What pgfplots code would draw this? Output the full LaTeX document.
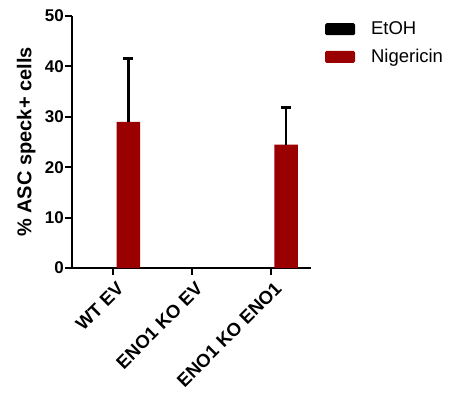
\documentclass[border=0pt]{standalone}
\usepackage{fontspec}
\setmainfont{Liberation Sans}
\usepackage{pgfplots}
\pgfplotsset{compat=1.18}
\definecolor{nigred}{RGB}{155,0,0}
\begin{document}
\begin{tikzpicture}[x=1pt,y=1pt]
\path[use as bounding box] (0,0) rectangle (454,392);
\begin{axis}[
  at={(72pt,124pt)}, anchor=south west,
  scale only axis, width=239pt, height=252pt,
  xmin=-0.52, xmax=2.51, ymin=0, ymax=50,
  axis lines*=left,
  axis line style={line width=2pt, -},
  every tick/.style={line width=2pt, black},
  major tick length=7pt, tick align=outside,
  xtick={0,1,2},
  xticklabels={WT EV, ENO1 KO EV, ENO1 KO ENO1},
  ytick={0,10,20,30,40,50},
  /pgf/number format/assume math mode=true,
  yticklabel style={font=\bfseries\fontsize{17}{17}\selectfont, inner sep=1pt},
  xticklabel style={font=\bfseries\fontsize{18.5}{18.5}\selectfont, rotate=45, anchor=north east, inner sep=1pt, yshift=-5pt, xshift=-1pt},
  ylabel={\% ASC speck+ cells},
  ylabel style={font=\bfseries\fontsize{20}{20}\selectfont, at={(axis description cs:-0.192,0.5)}, anchor=center},
  legend style={draw=none, fill=none, at={(1.058,0.985)}, anchor=north west, font=\fontsize{18.5}{18.5}\selectfont, row sep=9pt, inner sep=0pt},
  legend cell align=left,
  legend image code/.code={\fill[#1, rounded corners=1.5pt] (0pt,-6pt) rectangle (30pt,6pt); \path (44pt,0pt);},
  bar width=0.30,
  clip=false,
  every error bar/.append style={line width=2.6pt, black},
]
% EtOH: all zero
\addplot[ybar, bar shift=0pt, fill=black, draw=none] coordinates {(-0.155,0) (0.845,0) (1.845,0)};
\addlegendentry{EtOH}
% Nigericin
\addplot[ybar, bar shift=0pt, fill=nigred, draw=none,
  error bars/.cd, y dir=plus, y explicit,
  error bar style={line width=2.6pt, draw=black, solid},
  error mark=-,
  error mark options={rotate=90, line width=2.6pt, mark size=5pt, draw=black}]
  coordinates {(0.195,29.0) +- (0,12.6) (2.195,24.5) +- (0,7.3)};
\addlegendentry{Nigericin}
\end{axis}
\end{tikzpicture}
\end{document}
